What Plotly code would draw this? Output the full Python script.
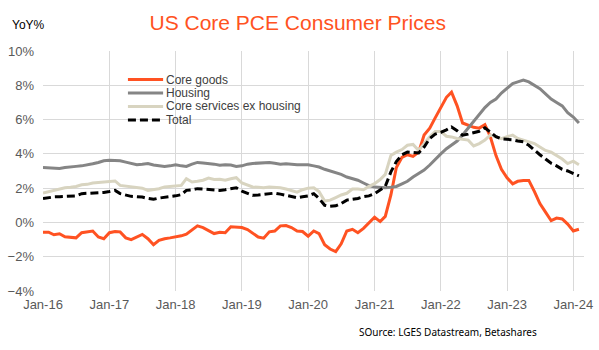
import pandas as pd
import plotly.graph_objects as go

months = pd.date_range("2016-01-01", "2024-02-01", freq="MS")

core_goods = [
    -0.57, -0.57, -0.72, -0.66, -0.84, -0.88, -0.90, -0.60, -0.55, -0.50, -0.85, -0.95,
    -0.60, -0.53, -0.55, -0.90, -1.00, -0.85, -0.70, -0.95, -1.30, -1.05, -0.95, -0.90,
    -0.85, -0.78, -0.68, -0.45, -0.20, -0.30, -0.45, -0.65, -0.58, -0.60, -0.25, -0.28,
    -0.30, -0.42, -0.60, -0.85, -0.92, -0.55, -0.50, -0.20, -0.18, -0.30, -0.50, -0.53,
    -0.80, -0.50, -0.65, -1.30, -1.55, -1.70, -1.25, -0.50, -0.40, -0.60, -0.35, -0.05,
    0.30, 0.05, 0.35, 1.60, 3.20, 3.80, 3.95, 3.85, 4.10, 5.10, 5.50, 6.10,
    6.70, 7.30, 7.60, 6.80, 5.80, 5.65, 5.55, 5.50, 5.70, 5.00, 3.90, 3.10,
    2.60, 2.25, 2.40, 2.45, 2.45, 1.80, 1.10, 0.60, 0.10, 0.25, 0.20, -0.10,
    -0.50, -0.40,
]

housing = [
    3.20, 3.18, 3.13, 3.15, 3.20, 3.25, 3.27, 3.30, 3.35, 3.42, 3.50, 3.60,
    3.63, 3.63, 3.60, 3.52, 3.45, 3.37, 3.40, 3.44, 3.35, 3.30, 3.27, 3.30,
    3.37, 3.30, 3.27, 3.40, 3.50, 3.47, 3.44, 3.40, 3.33, 3.37, 3.35, 3.27,
    3.30, 3.40, 3.44, 3.45, 3.47, 3.50, 3.45, 3.40, 3.42, 3.38, 3.37, 3.37,
    3.37, 3.30, 3.23, 3.10, 3.00, 2.90, 2.80, 2.65, 2.55, 2.46, 2.30, 2.15,
    2.06, 2.03, 2.02, 2.05, 2.10, 2.25, 2.40, 2.65, 2.85, 3.05, 3.35, 3.70,
    4.00, 4.30, 4.50, 4.75, 5.10, 5.50, 5.90, 6.30, 6.70, 7.00, 7.20, 7.55,
    7.80, 8.10, 8.20, 8.30, 8.20, 8.00, 7.80, 7.50, 7.20, 7.00, 6.80, 6.40,
    6.15, 5.80,
]

core_services_ex_housing = [
    1.71, 1.80, 1.87, 1.95, 2.02, 2.05, 2.10, 2.20, 2.22, 2.30, 2.32, 2.36,
    2.40, 2.42, 2.16, 2.12, 2.10, 2.07, 2.00, 1.87, 1.90, 1.97, 2.07, 2.10,
    2.12, 2.16, 2.55, 2.36, 2.40, 2.46, 2.59, 2.50, 2.52, 2.46, 2.55, 2.61,
    2.30, 2.20, 2.07, 2.05, 2.02, 2.07, 2.05, 2.02, 1.95, 1.85, 1.77, 1.91,
    2.00, 2.02, 1.80, 1.25, 1.30, 1.45, 1.60, 1.70, 1.95, 1.95, 1.91, 2.10,
    2.26, 2.50, 2.80, 3.90, 4.10, 4.25, 4.50, 4.55, 4.20, 4.60, 5.00, 5.30,
    5.30, 5.03, 4.99, 4.90, 4.85, 4.80, 4.46, 4.60, 4.80, 5.10, 5.00, 4.89,
    5.00, 5.09, 4.90, 4.80, 4.66, 4.60, 4.40, 4.20, 4.10, 3.92, 3.70, 3.43,
    3.57, 3.37,
]

total = [
    1.39, 1.45, 1.49, 1.50, 1.52, 1.52, 1.55, 1.68, 1.70, 1.71, 1.71, 1.75,
    1.80, 1.87, 1.68, 1.60, 1.52, 1.50, 1.48, 1.40, 1.35, 1.42, 1.45, 1.49,
    1.55, 1.62, 1.87, 1.90, 1.97, 1.95, 1.93, 1.90, 1.87, 1.91, 1.95, 2.02,
    1.83, 1.70, 1.58, 1.60, 1.64, 1.68, 1.71, 1.65, 1.58, 1.50, 1.44, 1.50,
    1.55, 1.68, 1.40, 1.00, 0.94, 0.97, 1.10, 1.30, 1.35, 1.40, 1.50, 1.55,
    1.68, 1.90, 2.10, 2.95, 3.55, 3.95, 4.10, 4.08, 4.05, 4.40, 4.90, 5.15,
    5.25, 5.40, 5.57, 5.35, 5.09, 5.15, 5.25, 5.32, 5.52, 5.25, 5.00, 4.87,
    4.85, 4.82, 4.75, 4.70, 4.50, 4.20, 3.95, 3.70, 3.45, 3.30, 3.10, 3.00,
    2.85, 2.71,
]

tick_dates = pd.date_range("2016-01-01", "2024-01-01", freq="YS")
tick_labels = [d.strftime("%b-%y") for d in tick_dates]

series_names = ["Core goods", "Housing", "Core services ex housing", "Total"]
series_values = [core_goods, housing, core_services_ex_housing, total]
series_colors = ["#FF5222", "#858585", "#D8D4C0", "#000000"]
series_dash = [None, None, None, "8px,4px"]

font_family = "Liberation Sans, Arial, sans-serif"

fig = go.Figure()
for name, vals, color, dash in zip(series_names, series_values, series_colors, series_dash):
    fig.add_trace(go.Scatter(
        x=months, y=vals, name=name, mode="lines",
        line=dict(color=color, width=3, dash=dash),
    ))

# custom compact legend (paper coordinates)
legend_shapes = []
legend_annots = []
leg_x0, leg_x1, leg_tx = 0.157, 0.222, 0.226
leg_rows = [0.881, 0.825, 0.769, 0.713]
for name, color, dash, ly in zip(series_names, series_colors, series_dash, leg_rows):
    legend_shapes.append(dict(type="line", xref="paper", yref="paper",
                              x0=leg_x0, x1=leg_x1, y0=ly, y1=ly,
                              line=dict(color=color, width=3,
                                        dash=dash if dash else "solid")))
    legend_annots.append(dict(text=name, xref="paper", yref="paper",
                              x=leg_tx, y=ly, xanchor="left", yanchor="middle",
                              showarrow=False, borderpad=0,
                              font=dict(family=font_family, size=12, color="#404040")))

fig.update_layout(
    width=599, height=350,
    margin=dict(l=43, r=15, t=51, b=59, autoexpand=False),
    paper_bgcolor="white", plot_bgcolor="white",
    font=dict(family=font_family, size=13, color="#595959"),
    title=dict(text="US Core PCE Consumer Prices", x=0.497, xanchor="center",
               y=0.935, yanchor="middle",
               font=dict(family=font_family, size=21, color="#FF5222")),
    showlegend=False,
    shapes=legend_shapes,
    annotations=legend_annots + [
        dict(text="YoY%", xref="paper", yref="paper", x=-0.061, y=1.11,
             xanchor="left", yanchor="middle", showarrow=False,
             font=dict(family=font_family, size=12, color="#000000")),
        dict(text="SOurce: LGES Datastream, Betashares", xref="paper", yref="paper",
             x=0.749, y=-0.172, xanchor="center", yanchor="middle", showarrow=False,
             font=dict(family="Noto Sans, sans-serif", size=10, color="#000000")),
    ],
)

fig.update_xaxes(
    range=[pd.Timestamp("2016-01-01"), pd.Timestamp("2024-02-29")],
    tickvals=tick_dates, ticktext=tick_labels,
    showgrid=True, gridcolor="#D9D9D9", gridwidth=1,
    showline=False, zeroline=False, ticks="",
    ticklabelstandoff=4, automargin=False,
)
fig.update_yaxes(
    range=[-4, 10], dtick=2, ticksuffix="%",
    showgrid=True, gridcolor="#D9D9D9", gridwidth=1,
    zeroline=False, showline=False, ticks="",
    ticklabelstandoff=8, automargin=False,
)

fig.write_html("out.html")
